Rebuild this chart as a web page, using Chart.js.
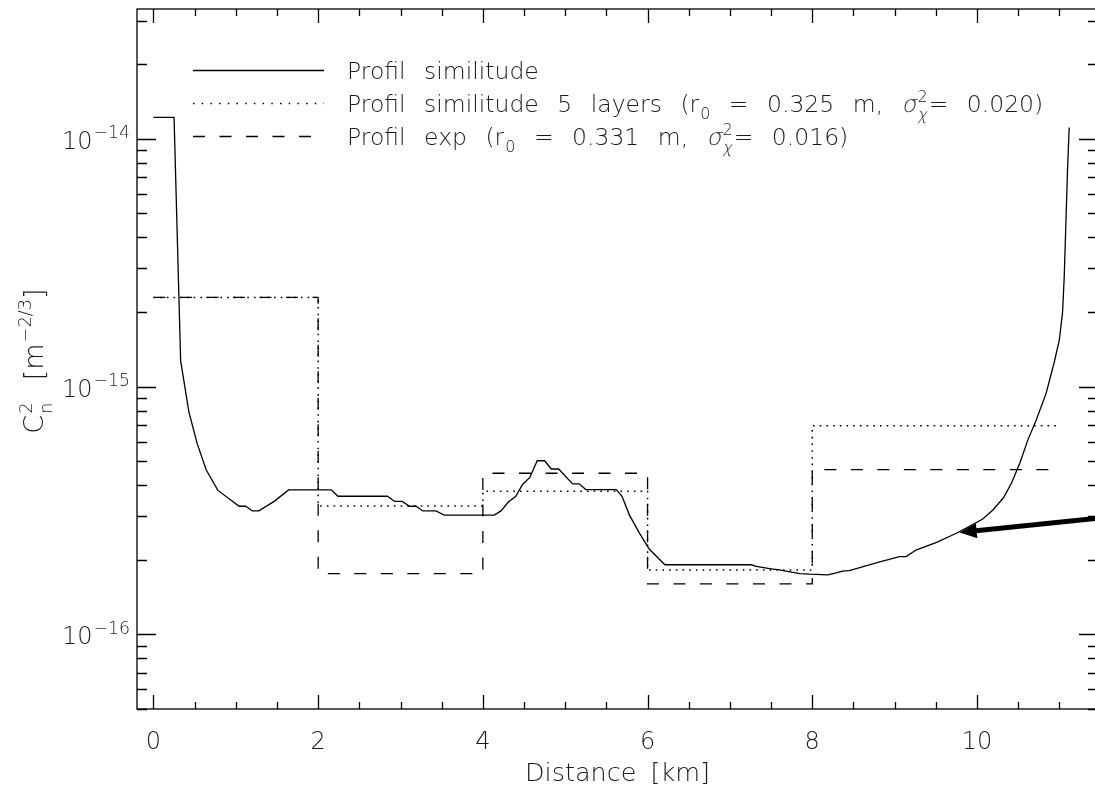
<!DOCTYPE html>
<html lang="fr">
<head>
    <meta charset="UTF-8">
    <title>Profil de Cn2 le long du trajet</title>
    <script src="https://cdn.jsdelivr.net/npm/chart.js@4"></script>
    <style>
        html, body { margin: 0; padding: 0; background: #fff; overflow: hidden; }
        .container { position: relative; width: 1100px; height: 787px; }
    </style>
</head>
<body>
    <div class="container">
        <canvas id="graficoCn2" width="1100" height="787"></canvas>
    </div>

<script>
    // profil similitude (courbe continue)
    const distanceKm = [
        0.00, 0.25, 0.33, 0.43, 0.53, 0.64, 0.78, 1.04, 1.12, 1.20,
        1.28, 1.47, 1.64, 2.16, 2.24, 2.84, 2.93, 3.02, 3.11, 3.19,
        3.27, 3.43, 3.53, 4.14, 4.22, 4.31, 4.40, 4.48, 4.57, 4.66,
        4.75, 4.83, 4.92, 5.09, 5.17, 5.25, 5.62, 5.69, 5.78, 5.90,
        6.02, 6.21, 7.26, 7.32, 7.50, 7.60, 7.68, 7.85, 7.97, 8.19,
        8.29, 8.37, 8.45, 8.82, 9.06, 9.14, 9.26, 9.51, 9.75, 9.91,
        10.07, 10.19, 10.32, 10.42, 10.52, 10.62, 10.72, 10.84, 10.94, 11.00,
        11.04, 11.06, 11.08, 11.10, 11.12
    ];
    const cn2Similitude = [
        1.22e-14, 1.22e-14, 1.27e-15, 7.9e-16, 5.9e-16, 4.62e-16, 3.82e-16, 3.29e-16, 3.29e-16, 3.15e-16,
        3.15e-16, 3.45e-16, 3.83e-16, 3.83e-16, 3.61e-16, 3.61e-16, 3.44e-16, 3.44e-16, 3.29e-16, 3.29e-16,
        3.15e-16, 3.15e-16, 3.03e-16, 3.03e-16, 3.15e-16, 3.42e-16, 3.61e-16, 4.02e-16, 4.30e-16, 5.02e-16,
        5.02e-16, 4.65e-16, 4.65e-16, 4.05e-16, 4.05e-16, 3.84e-16, 3.84e-16, 3.61e-16, 3.03e-16, 2.57e-16,
        2.21e-16, 1.91e-16, 1.91e-16, 1.88e-16, 1.84e-16, 1.82e-16, 1.80e-16, 1.76e-16, 1.75e-16, 1.74e-16,
        1.77e-16, 1.80e-16, 1.81e-16, 1.96e-16, 2.06e-16, 2.06e-16, 2.19e-16, 2.35e-16, 2.56e-16, 2.73e-16,
        2.92e-16, 3.17e-16, 3.55e-16, 4.08e-16, 4.91e-16, 6.11e-16, 7.33e-16, 9.39e-16, 1.26e-15, 1.54e-15,
        2.0e-15, 2.78e-15, 4.56e-15, 7.48e-15, 1.11e-14
    ];

    // profils en couches (bornes en km, une valeur par couche, la derniere repetee)
    const layerBounds = [0, 2, 4, 6, 8, 11];
    const cn2Layers5 = [2.29e-15, 3.30e-16, 3.78e-16, 1.82e-16, 6.95e-16, 6.95e-16];
    const cn2Exp     = [2.29e-15, 1.76e-16, 4.47e-16, 1.60e-16, 4.62e-16, 4.62e-16];

    const xTickLabels = [0, 2, 4, 6, 8, 10];
    const yTickExps = [-16, -15, -14];

    // fleche (debut et pointe, en km / m^-2/3)
    const arrowTail = { x: 11.5, y: 2.95e-16 };
    const arrowTip  = { x: 9.79, y: 2.58e-16 };

    const legendTexts = [
        [['t', 'Profil similitude']],
        [['t', 'Profil similitude 5 layers (r'], ['sub', '0'], ['t', ' = 0.325 m, '], ['it', 'σ'], ['supsub', '2', 'χ', true], ['t', '= 0.020)']],
        [['t', 'Profil exp (r'], ['sub', '0'], ['t', ' = 0.331 m, '], ['it', 'σ'], ['supsub', '2', 'χ', true], ['t', '= 0.016)']]
    ];
    const xTitle = [['t', 'Distance [km]']];
    const yTitle = [['t', 'C'], ['supsub', '2', 'n', false], ['t', '  [m'], ['sup', '−2/3'], ['t', ']']];

    const INK = '#000';
    const TXT = '#1a1a1a';
    const FAMILY = '"DejaVu Sans", "Liberation Sans", sans-serif';

    function font(size) {
        return '200 ' + size + 'px ' + FAMILY;
    }

    // italique "a la main" pour garder le trait fin
    function slanted(ctx, s, x, y) {
        ctx.save();
        ctx.translate(x, y);
        ctx.transform(1, 0, -0.22, 1, 0, 0);
        ctx.fillText(s, 0, 0);
        ctx.restore();
    }

    // texte avec espaces elargis (police vectorielle IDL)
    function words(ctx, text, x, y, extra, dry, italic) {
        const parts = text.split(' ');
        const sp = ctx.measureText(' ').width + extra;
        let cx = x;
        parts.forEach((w, i) => {
            if (i > 0) cx += sp;
            if (!dry && w) {
                if (italic) slanted(ctx, w, cx, y);
                else ctx.fillText(w, cx, y);
            }
            cx += ctx.measureText(w).width;
        });
        return cx;
    }

    function rich(ctx, parts, x, y, size, extra, dry, ratio) {
        let cx = x;
        const small = size * (ratio || 0.66);
        for (const p of parts) {
            const kind = p[0];
            if (kind === 't' || kind === 'it') {
                ctx.font = font(size);
                cx = words(ctx, p[1], cx, y, extra, dry, kind === 'it');
            } else if (kind === 'sub') {
                ctx.font = font(small);
                cx = words(ctx, p[1], cx + 1, y + size * 0.3, extra, dry);
            } else if (kind === 'sup') {
                ctx.font = font(small);
                cx = words(ctx, p[1], cx + 1, y - size * 0.45, extra, dry);
            } else if (kind === 'supsub') {
                ctx.font = font(small);
                const w1 = ctx.measureText(p[1]).width;
                const w2 = ctx.measureText(p[2]).width;
                if (!dry) {
                    ctx.fillText(p[1], cx + 1, y - size * 0.42);
                    if (p[3]) slanted(ctx, p[2], cx + 1, y + size * 0.32);
                    else ctx.fillText(p[2], cx + 1, y + size * 0.32);
                }
                cx += Math.max(w1, w2) + 2;
            }
        }
        return cx - x;
    }

    const idlAxes = {
        id: 'idlAxes',
        afterDatasetsDraw(chart) {
            const { ctx, chartArea: a, scales: { x, y } } = chart;
            ctx.save();
            ctx.strokeStyle = INK;
            ctx.lineWidth = 1.3;
            ctx.setLineDash([]);
            ctx.strokeRect(a.left, a.top, a.right - a.left, a.bottom - a.top);

            ctx.beginPath();
            for (let v = 0; v <= x.max; v += 0.5) {
                const px = Math.round(x.getPixelForValue(v)) + 0.5;
                const len = v % 2 === 0 ? 14 : 7;
                ctx.moveTo(px, a.bottom); ctx.lineTo(px, a.bottom - len);
                ctx.moveTo(px, a.top); ctx.lineTo(px, a.top + len);
            }
            for (let e = -17; e <= -14; e++) {
                for (let m = 1; m <= 9; m++) {
                    const v = m * Math.pow(10, e);
                    if (v < y.min || v > y.max) continue;
                    const py = Math.round(y.getPixelForValue(v)) + 0.5;
                    const len = m === 1 ? 19 : 10;
                    ctx.moveTo(a.left, py); ctx.lineTo(a.left + len, py);
                    ctx.moveTo(a.right, py); ctx.lineTo(a.right - len, py);
                }
            }
            ctx.stroke();

            // etiquettes
            ctx.fillStyle = TXT;
            ctx.textBaseline = 'alphabetic';
            ctx.textAlign = 'left';
            ctx.font = font(24);
            xTickLabels.forEach(v => {
                const s = String(v);
                const w = ctx.measureText(s).width;
                ctx.fillText(s, x.getPixelForValue(v) - w / 2, a.bottom + 40);
            });
            yTickExps.forEach(e => {
                const py = y.getPixelForValue(Math.pow(10, e));
                const parts = [['t', '10'], ['sup', '−' + Math.abs(e)]];
                const w = rich(ctx, parts, 0, 0, 24, 0, true, 0.72);
                rich(ctx, parts, a.left - 7 - w, py + 10, 24, 0, false, 0.72);
            });

            const tw = rich(ctx, xTitle, 0, 0, 25.5, 6, true);
            rich(ctx, xTitle, (a.left + a.right) / 2 - tw / 2, a.bottom + 72, 25.5, 6, false);

            ctx.save();
            ctx.translate(43, 361);
            ctx.rotate(-Math.PI / 2);
            const yw = rich(ctx, yTitle, 0, 0, 27, 2, true, 0.66);
            rich(ctx, yTitle, -yw / 2, 0, 27, 2, false, 0.66);
            ctx.restore();

            // legende
            const rows = [70, 103, 136];
            chart.data.datasets.forEach((ds, i) => {
                ctx.beginPath();
                ctx.lineWidth = ds.borderWidth;
                ctx.setLineDash(i === 1 ? [1.5, 7.2] : (ds.borderDash || []));
                ctx.moveTo(193, rows[i] + 0.5);
                ctx.lineTo(324, rows[i] + 0.5);
                ctx.stroke();
                ctx.setLineDash([]);
                rich(ctx, legendTexts[i], 347, rows[i] + 9, 23.5, 11, false, 0.68);
            });

            // fleche
            const tx = x.getPixelForValue(arrowTail.x), ty = y.getPixelForValue(arrowTail.y);
            const hx = x.getPixelForValue(arrowTip.x), hy = y.getPixelForValue(arrowTip.y);
            const ang = Math.atan2(hy - ty, hx - tx);
            const bx = hx - 17 * Math.cos(ang), by = hy - 17 * Math.sin(ang);
            ctx.beginPath();
            ctx.lineWidth = 5;
            ctx.moveTo(tx, ty); ctx.lineTo(bx + 3 * Math.cos(ang), by + 3 * Math.sin(ang));
            ctx.stroke();
            ctx.beginPath();
            ctx.fillStyle = INK;
            ctx.moveTo(hx, hy);
            ctx.lineTo(bx + 7.5 * Math.sin(ang), by - 7.5 * Math.cos(ang));
            ctx.lineTo(bx - 7.5 * Math.sin(ang), by + 7.5 * Math.cos(ang));
            ctx.closePath();
            ctx.fill();
            ctx.restore();
        }
    };

    const ctx = document.getElementById('graficoCn2').getContext('2d');
    new Chart(ctx, {
        type: 'line',
        data: {
            datasets: [{
                label: 'Profil similitude',
                data: distanceKm.map((d, i) => ({ x: d, y: cn2Similitude[i] })),
                borderColor: INK,
                borderWidth: 1.3,
                pointRadius: 0,
                tension: 0
            }, {
                label: 'Profil similitude 5 layers',
                data: layerBounds.map((d, i) => ({ x: d, y: cn2Layers5[i] })),
                borderColor: INK,
                borderWidth: 1.5,
                borderDash: [1.6, 5.1],
                stepped: 'before',
                pointRadius: 0
            }, {
                label: 'Profil exp',
                data: layerBounds.map((d, i) => ({ x: d, y: cn2Exp[i] })),
                borderColor: INK,
                borderWidth: 1.3,
                borderDash: [12, 14.5],
                stepped: 'before',
                pointRadius: 0
            }]
        },
        options: {
            responsive: false,
            animation: false,
            layout: { padding: { left: 137, top: 9, right: 2, bottom: 78 } },
            plugins: { legend: { display: false }, tooltip: { enabled: false } },
            scales: {
                x: { type: 'linear', min: -0.2, max: 11.47, display: false },
                y: { type: 'logarithmic', min: 5.24e-17, max: 3.34e-14, display: false }
            }
        },
        plugins: [idlAxes]
    });
</script>
</body>
</html>
